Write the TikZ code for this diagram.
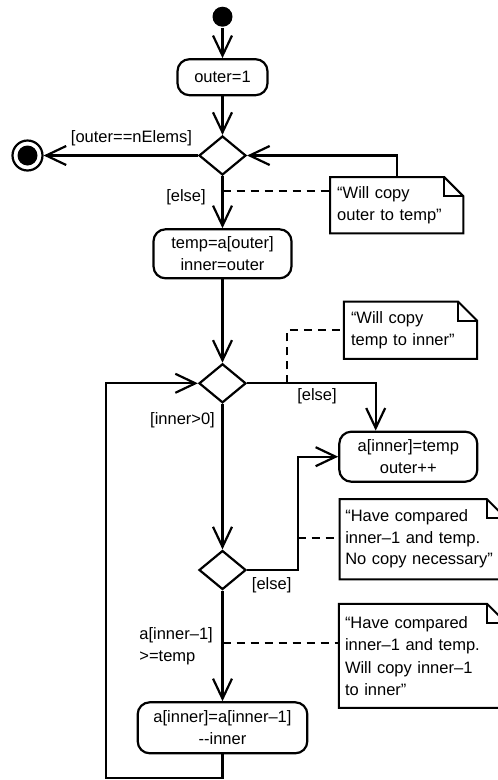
\documentclass[tikz,border=0pt]{standalone}
\usepackage{fontspec}
\setmainfont{Liberation Sans}
\usetikzlibrary{arrows.meta,shapes.geometric}
\newcommand\drawnote[1]{%
  \draw[notestyle] (#1.north west) -- ([xshift=-19pt]#1.north east) -- ([yshift=-19pt]#1.north east) -- (#1.south east) -- (#1.south west) -- cycle;
  \draw[notestyle] ([xshift=-19pt]#1.north east) -- ([xshift=-19pt,yshift=-19pt]#1.north east) -- ([yshift=-19pt]#1.north east);}
\begin{document}
\begin{tikzpicture}[x=1pt,y=-1pt,line width=2.2pt,
  font=\fontsize{16.5}{21.5}\selectfont,
  >={Straight Barb[length=20pt,width=19pt]},
  act/.style={draw,rounded corners=12pt,align=center,inner sep=0pt},
  dec/.style={draw,shape=diamond,minimum width=47pt,minimum height=39pt,inner sep=0pt},
  note/.style={draw=none,align=left,inner sep=0pt,text width=#1},
  notestyle/.style={line width=2pt,line join=miter},
  lbl/.style={inner sep=0pt},
  dashline/.style={dash pattern=on 8pt off 6pt}]
\useasboundingbox (0,0) rectangle (498,780);
\clip (0,0) rectangle (498,780);
% nodes
\node[circle,fill,inner sep=0pt,minimum size=20pt] (start) at (222.5,16.7) {};
\node[act,minimum width=90pt,minimum height=36pt] (a1) at (222.5,77.2) {outer=1};
\node[dec] (d1) at (222.5,155.5) {};
\node[circle,draw,inner sep=0pt,minimum size=30pt] (final) at (27.5,155.5) {};
\fill (final.center) circle (10pt);
\node[lbl] (l1) at (131.5,138) {[outer==nElems]};
\node[note=119pt,minimum width=131pt,minimum height=54pt] (n1) at (396.7,205.3) {\fontsize{16.5}{20}\selectfont “Will copy\\outer to temp”};
\node[lbl] (l2) at (186,197) {[else]};
\node[act,minimum width=138pt,minimum height=49pt] (a2) at (222.5,253.8) {\fontsize{16.5}{20}\selectfont temp=a[outer]\\inner=outer};
\node[dec] (d2) at (222.5,383.3) {};
\node[note=119pt,minimum width=131pt,minimum height=55pt] (n2) at (410.5,330.2) {“Will copy\\temp to inner”};
\node[lbl] (l3) at (317,396.7) {[else]};
\node[lbl] (l4) at (182.5,420) {[inner>0]};
\node[act,minimum width=138pt,minimum height=50pt] (a3) at (408.3,456.7) {\fontsize{16.5}{23}\selectfont a[inner]=temp\\outer++};
\node[dec] (d3) at (222.5,570) {};
\node[note=155pt,minimum width=164pt,minimum height=78pt] (n3) at (422.8,539.2) {“Have compared\\inner–1 and temp.\\No copy necessary”};
\node[lbl] (l5) at (271.7,585.7) {[else]};
\node[lbl,anchor=west,align=left] (l6) at (138.3,646) {a[inner–1]\\>=temp};
\node[note=155pt,minimum width=165pt,minimum height=101.7pt] (n4) at (422.5,655.8) {\fontsize{16.5}{22.7}\selectfont “Have compared\\inner–1 and temp.\\Will copy inner–1\\to inner”};
\node[act,minimum width=169.6pt,minimum height=51pt] (a4) at (222.5,727.8) {a[inner]=a[inner–1]\\-{}-inner};
% note outlines
\drawnote{n1}
\drawnote{n2}
\drawnote{n3}
\drawnote{n4}
% connectors
\draw[->] (start) -- (a1);
\draw[->] (a1) -- (d1);
\draw[->] (d1) -- (final);
\draw[->] (n1.north) |- (d1.east);
\draw[->] (d1) -- (a2);
\coordinate (c1) at (222.5,190.7);
\draw[dashline] (c1) -- (c1 -| n1.west);
\draw[->] (a2) -- (d2);
\coordinate (k2) at (375.7,383.3);
\draw[->] (d2.east) -- (k2) -- (k2 |- a3.north);
\coordinate (c2) at (287,383.3);
\draw[dashline] (c2) |- (n2.west);
\draw[->] (d2) -- (d3);
\coordinate (k3) at (297.7,570);
\draw[->] (d3.east) -- (k3) |- (a3.west);
\coordinate (c3) at (297.7,538.3);
\draw[dashline] (c3) -- (c3 -| n3.west);
\draw[->] (d3) -- (a4);
\coordinate (c4) at (222.5,643.3);
\draw[dashline] (c4) -- (c4 -| n4.west);
\coordinate (lb) at (105.7,778);
\draw[->] (a4.south) |- (lb) |- (d2.west);
\end{tikzpicture}
\end{document}
